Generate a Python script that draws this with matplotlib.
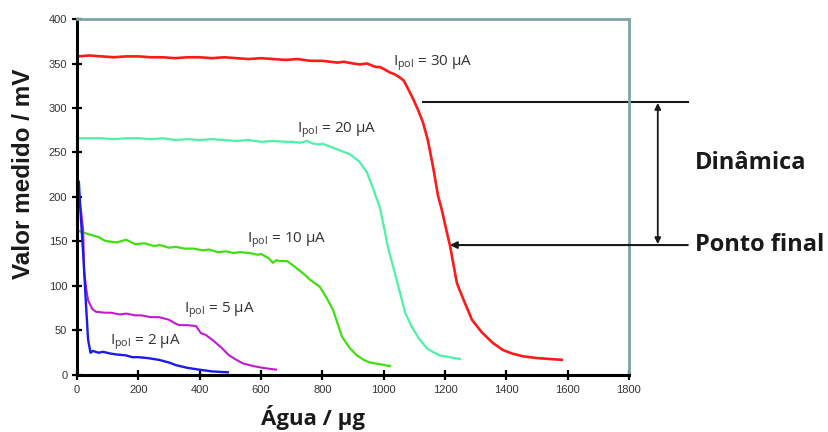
import matplotlib
matplotlib.use("Agg")
import matplotlib.pyplot as plt

# Titration curves: measured voltage vs. water amount for several polarisation currents
x_30 = [3, 40, 80, 120, 160, 200, 240, 280, 320, 360, 400, 440, 480, 520, 560, 600, 640, 680,
        720, 760, 800, 825, 850, 870, 900, 923, 945, 960, 975, 988, 1005, 1020, 1035, 1050,
        1065, 1076, 1095, 1112, 1128, 1144, 1161, 1177, 1190, 1205, 1216, 1239, 1260, 1288,
        1320, 1356, 1389, 1420, 1454, 1500, 1540, 1581]
y_30 = [358, 359, 358, 357, 358, 358, 357, 357, 356, 357, 357, 356, 357, 356, 355, 356, 355, 354,
        355, 353, 353, 352, 351, 352, 350, 349, 350, 348, 346, 346, 343, 340, 338, 335,
        331, 324, 311, 298, 284, 264, 234, 202, 185, 162, 146, 103, 85, 62,
        48, 36, 28, 24, 21, 19, 18, 17]

x_20 = [3, 40, 80, 120, 160, 200, 240, 280, 320, 360, 400, 440, 480, 520, 560, 600, 640, 680,
        700, 727, 750, 770, 790, 800, 830, 860, 890, 920, 945, 965, 988, 1015, 1037, 1055,
        1070, 1092, 1115, 1141, 1160, 1183, 1215, 1249]
y_20 = [266, 266, 266, 265, 266, 266, 265, 266, 264, 265, 264, 265, 264, 263, 264, 262, 263, 262,
        262, 261, 263, 260, 259, 260, 256, 252, 248, 240, 228, 210, 188, 142, 114, 90,
        70, 54, 41, 30, 26, 22, 20, 18]

x_10 = [3, 40, 70, 90, 104, 130, 160, 190, 220, 250, 270, 300, 323, 350, 380, 410, 430, 460,
        486, 510, 530, 564, 590, 600, 626, 639, 650, 660, 685, 705, 727, 745, 760, 792, 815,
        835, 864, 890, 913, 935, 955, 990, 1021]
y_10 = [162, 158, 155, 151, 150, 149, 152, 147, 148, 145, 146, 143, 144, 142, 142, 140, 141, 138,
        139, 137, 138, 137, 135, 136, 131, 126, 129, 128, 128, 123, 117, 112, 107, 99, 86,
        73, 43, 30, 22, 17, 14, 12, 10]

x_5 = [6, 14, 20, 23, 30, 36, 50, 62, 90, 110, 140, 160, 190, 210, 240, 267, 290, 300, 320,
       333, 360, 388, 404, 420, 443, 470, 496, 520, 541, 575, 606, 649]
y_5 = [199, 182, 163, 118, 97, 84, 74, 71, 70, 70, 68, 69, 67, 67, 65, 65, 63, 62, 58,
       56, 56, 55, 47, 45, 39, 31, 22, 17, 13, 10, 8, 6]

x_2 = [6, 12, 20, 29, 36, 44, 52, 70, 85, 110, 130, 160, 180, 200, 230, 267, 300, 323, 360,
       398, 440, 492]
y_2 = [217, 180, 137, 81, 40, 25, 27, 25, 26, 24, 23, 22, 20, 20, 19, 17, 14, 11, 8,
       6, 4, 3]

series = [
    (x_30, y_30, "#ff1a1a", 1.9),
    (x_20, y_20, "#4cf2a6", 1.6),
    (x_10, y_10, "#40e010", 1.6),
    (x_5, y_5, "#c21ad2", 1.5),
    (x_2, y_2, "#1a1aee", 1.7),
]

labels = [
    (1030, 350, r"$\mathregular{I_{pol}}$ = 30 µA"),
    (717, 275, r"$\mathregular{I_{pol}}$ = 20 µA"),
    (554, 152, r"$\mathregular{I_{pol}}$ = 10 µA"),
    (349, 73, r"$\mathregular{I_{pol}}$ = 5 µA"),
    (108, 37, r"$\mathregular{I_{pol}}$ = 2 µA"),
]

x_ticks = [0, 200, 400, 600, 800, 1000, 1200, 1400, 1600, 1800]
y_ticks = [0, 50, 100, 150, 200, 250, 300, 350, 400]

# Reference levels for the annotations
dyn_level = 306.7
end_level = 146
end_x = 1216

plt.rcParams["mathtext.fontset"] = "custom"
plt.rcParams["mathtext.rm"] = "Open Sans"

fig = plt.figure(figsize=(8.29, 4.32), dpi=100)
ax = fig.add_axes([0.0929, 0.132, 0.6658, 0.824])

for xs, ys, c, lw in series:
    ax.plot(xs, ys, color=c, lw=lw, solid_joinstyle="round")

for lx, ly, txt in labels:
    ax.text(lx, ly, txt, fontsize=11, color="#333333", family="Open Sans",
            ha="left", va="center")

ax.set_xlim(0, 1800)
ax.set_ylim(0, 400)
ax.set_xticks(x_ticks)
ax.set_yticks(y_ticks)
ax.tick_params(direction="inout", length=7, width=1.6, color="black",
               labelsize=8, labelcolor="#333333")
for lab in ax.get_xticklabels() + ax.get_yticklabels():
    lab.set_family("Liberation Sans")

for side in ("left", "bottom"):
    ax.spines[side].set_color("black")
    ax.spines[side].set_linewidth(2.2)
for side in ("top", "right"):
    ax.spines[side].set_color("#82a3a6")
    ax.spines[side].set_linewidth(2.0)

fig.text(24 / 829, 1 - 174 / 432, "Valor medido / mV", fontsize=17.5, fontweight="bold",
         family="Liberation Sans", color="#1a1a1a", rotation=90, ha="center", va="center")
fig.text(313 / 829, 1 - 418 / 432, "Água / µg", fontsize=16, fontweight="bold",
         family="Open Sans", color="#1a1a1a", ha="center", va="center")

# Dynamic range annotation
ax.plot([1128, 1992], [dyn_level, dyn_level], color="#1a1a1a", lw=1.5, clip_on=False)
ax.annotate("", xy=(1894, dyn_level - 1), xytext=(1894, end_level + 1),
            arrowprops=dict(arrowstyle="<|-|>", color="#1a1a1a", lw=1.3,
                            mutation_scale=9, shrinkA=0, shrinkB=0),
            annotation_clip=False)
ax.annotate("", xy=(end_x, end_level), xytext=(1992, end_level),
            arrowprops=dict(arrowstyle="-|>", color="#1a1a1a", lw=1.5,
                            mutation_scale=10, shrinkA=0, shrinkB=0),
            annotation_clip=False)

ax.text(2015, 238, "Dinâmica", fontsize=17, fontweight="bold", family="Open Sans",
        color="#1a1a1a", ha="left", va="center", clip_on=False)
ax.text(2015, end_level, "Ponto final", fontsize=17, fontweight="bold", family="Open Sans",
        color="#1a1a1a", ha="left", va="center", clip_on=False)

fig.savefig("out.png", dpi=100)
